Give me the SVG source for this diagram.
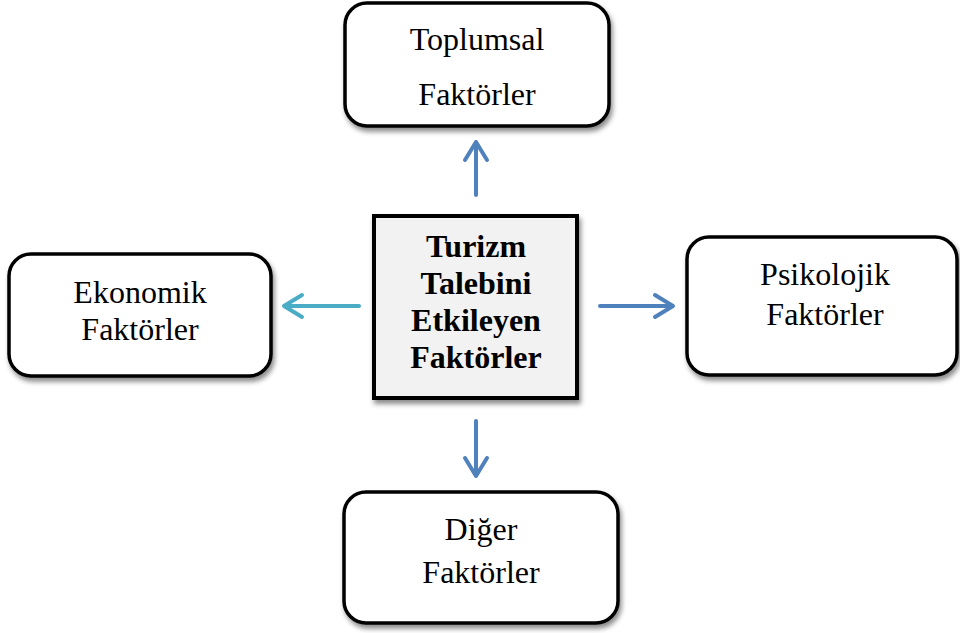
<svg xmlns="http://www.w3.org/2000/svg" width="960" height="633" viewBox="0 0 960 633">
<defs>
<filter id="sh" x="-10%" y="-10%" width="125%" height="130%">
<feDropShadow dx="2" dy="4" stdDeviation="2.5" flood-color="#000" flood-opacity="0.45"/>
</filter>
</defs>
<style>
.box{fill:#fff;stroke:#000;stroke-width:3.5;filter:url(#sh)}
.center{fill:#f2f2f2;stroke:#000;stroke-width:4;filter:url(#sh)}
text{font-family:'Liberation Serif','Times New Roman',Times,serif;fill:#000;text-anchor:middle}
.t{font-size:32px}
.b{font-size:32px;font-weight:bold}
.ar{fill:none;stroke-width:4;stroke-linecap:round;stroke-linejoin:round}
.blue{stroke:#4f81bd}
.teal{stroke:#4bacc6}
</style>
<rect width="960" height="633" fill="#fff"/>
<g id="connectors">
<path class="ar blue" d="M476 195 V142 M465 160 L476 142 L487 160"/>
<path class="ar blue" d="M476 421 V476 M465 458 L476 476 L487 458"/>
<path class="ar teal" d="M359 306 H284 M302 295 L284 306 L302 317"/>
<path class="ar blue" d="M600 306 H673 M655 295 L673 306 L655 317"/>
</g>
<g id="center">
<rect class="center" x="374" y="216" width="203" height="182"/>
<text class="b" x="476" y="257">Turizm</text>
<text class="b" x="476" y="294">Talebini</text>
<text class="b" x="476" y="331">Etkileyen</text>
<text class="b" x="476" y="368">Faktörler</text>
</g>
<g id="toplumsal">
<rect class="box" x="345" y="3" width="264" height="123" rx="22"/>
<text class="t" x="477" y="50">Toplumsal</text>
<text class="t" x="477" y="105">Faktörler</text>
</g>
<g id="ekonomik">
<rect class="box" x="9" y="254" width="262" height="122" rx="22"/>
<text class="t" x="140" y="303">Ekonomik</text>
<text class="t" x="140" y="340">Faktörler</text>
</g>
<g id="psikolojik">
<rect class="box" x="687" y="237" width="270" height="138" rx="22"/>
<text class="t" x="825" y="285">Psikolojik</text>
<text class="t" x="825" y="325">Faktörler</text>
</g>
<g id="diger">
<rect class="box" x="344" y="492" width="274" height="131" rx="22"/>
<text class="t" x="481" y="540">Diğer</text>
<text class="t" x="481" y="583">Faktörler</text>
</g>
</svg>
